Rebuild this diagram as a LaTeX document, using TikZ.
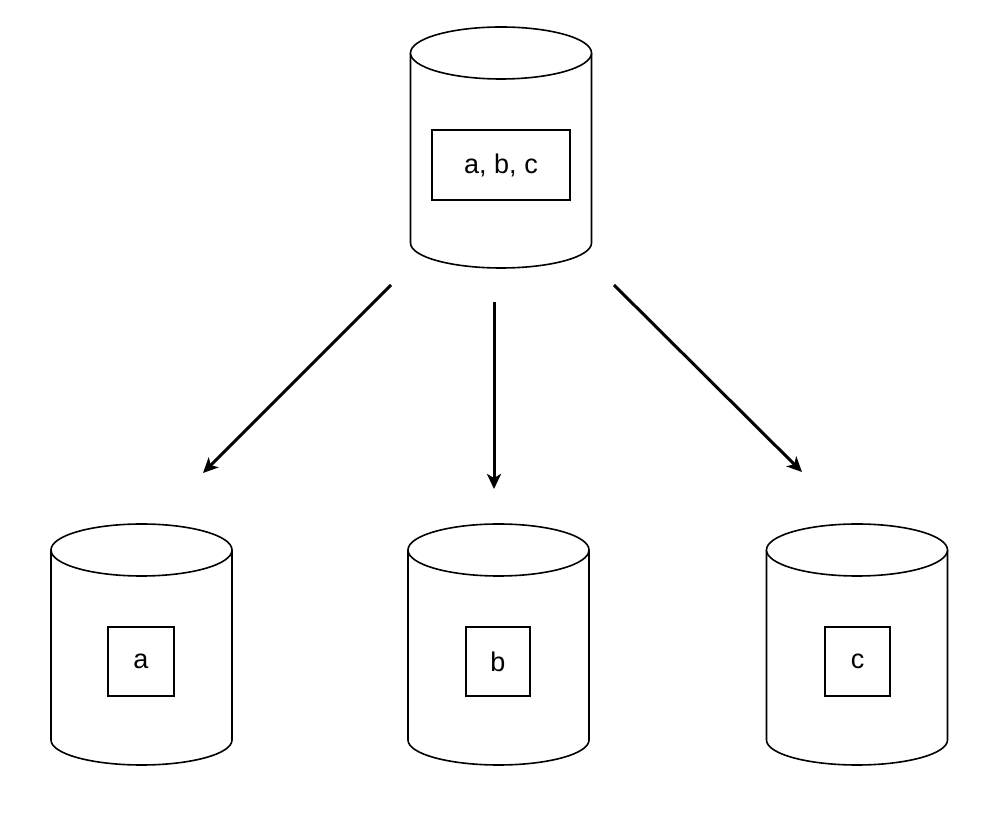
\documentclass[tikz,border=0pt]{standalone}
\usepackage{fontspec}
\setmainfont{Liberation Sans}
\usetikzlibrary{arrows.meta}
\tikzset{
  cylline/.style={draw=black,line width=1.6pt,fill=white},
  pics/dbcyl/.style={code={
    \draw[cylline] (-90.5,0) -- (-90.5,-190) arc[start angle=180,end angle=360,x radius=90.5,y radius=25] -- (90.5,0);
    \draw[cylline] (0,0) ellipse[x radius=90.5,y radius=26];
  }},
  label box/.style={draw=black,line width=1.6pt,fill=white,inner sep=0pt,
    font=\fontsize{27}{32}\selectfont},
  flow/.style={line width=3pt,-{Stealth[length=15pt,width=14pt,inset=4pt]}}
}
\begin{document}
\begin{tikzpicture}[x=1pt,y=1pt]
\useasboundingbox (0,0) rectangle (996,814);
% cylinders
\pic at (501,761) {dbcyl};
\pic at (141.5,264) {dbcyl};
\pic at (498.5,264) {dbcyl};
\pic at (857,264) {dbcyl};
% labels
\node[label box,minimum width=138pt,minimum height=70pt] (abc) at (501,649) {a, b, c};
\node[label box,minimum width=66pt,minimum height=69pt] (a) at (141,152.5) {a};
\node[label box,minimum width=64pt,minimum height=69pt] (b) at (498,152.5) {b};
\node[label box,minimum width=65pt,minimum height=69pt] (c) at (857.5,152.5) {c};
% arrow ends
\coordinate (s1) at (391,529);
\coordinate (e1) at (203,341);
\coordinate (s2) at (494,512);
\coordinate (e2) at (494,325);
\coordinate (s3) at (614,529);
\coordinate (e3) at (802,342);
\draw[flow] (s1) -- (e1);
\draw[flow] (s2) -- (e2);
\draw[flow] (s3) -- (e3);
\end{tikzpicture}
\end{document}
